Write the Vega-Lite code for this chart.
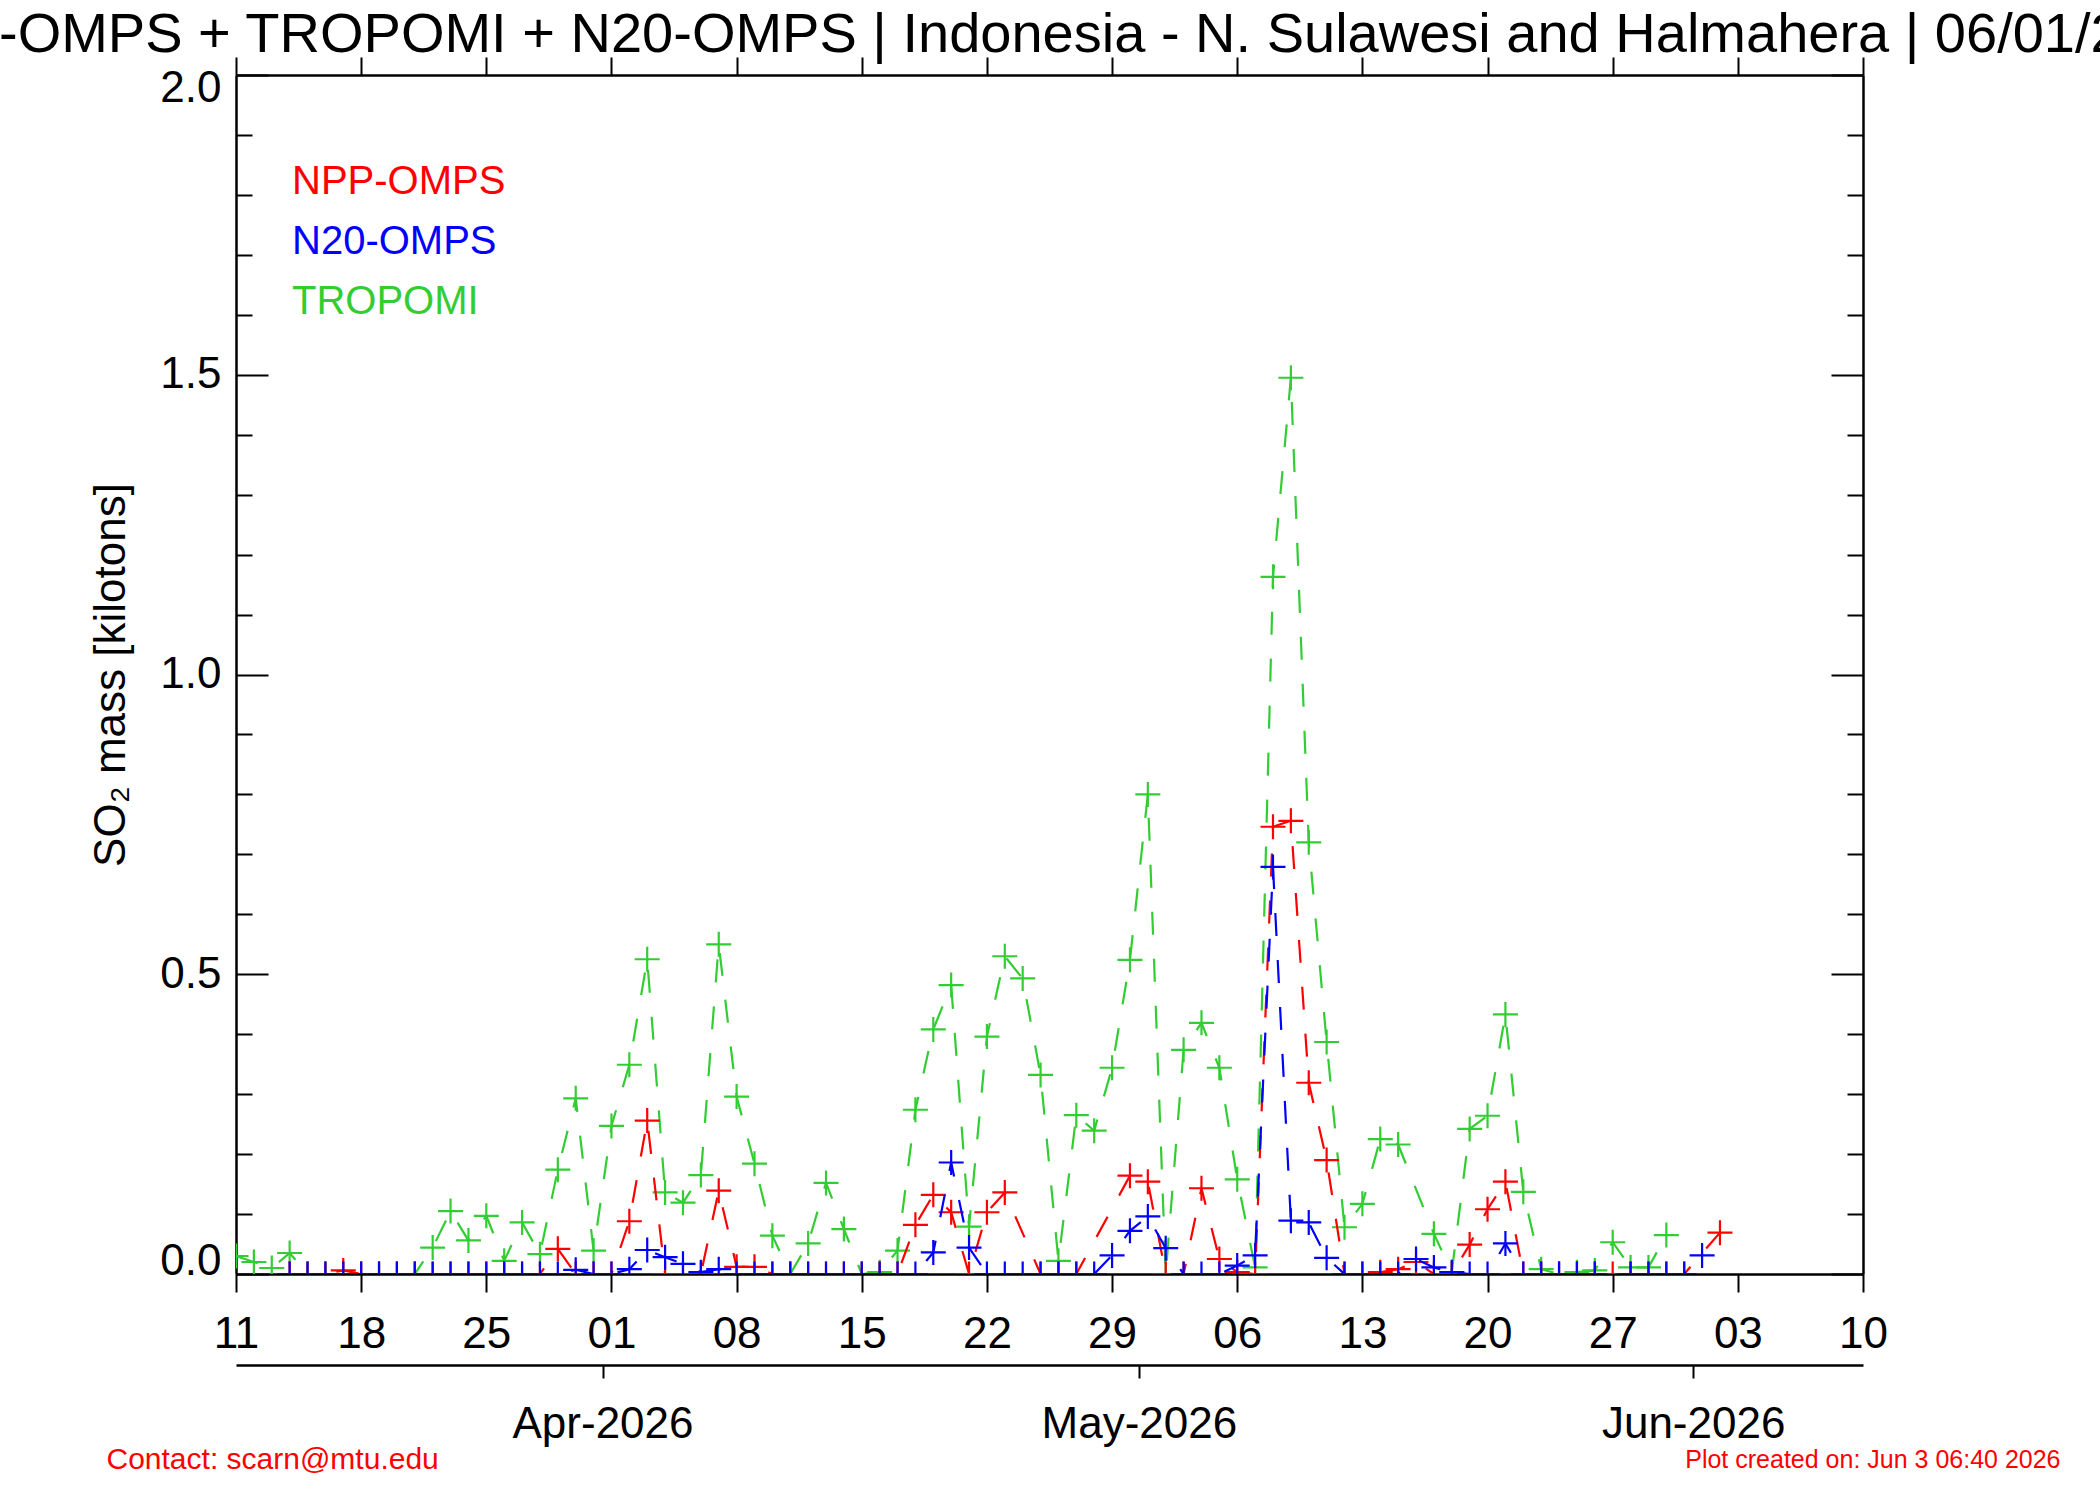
{
  "$schema": "https://vega.github.io/schema/vega-lite/v6.json",
  "width": 1627,
  "height": 1199,
  "autosize": "none",
  "padding": {"left": 236, "top": 75, "right": 237, "bottom": 226},
  "background": "white",
  "title": {
    "text": "NPP-OMPS + TROPOMI + N20-OMPS | Indonesia - N. Sulawesi and Halmahera | 06/01/2026",
    "font": "Liberation Sans",
    "fontSize": 56,
    "fontWeight": "normal",
    "color": "black",
    "anchor": "middle",
    "offset": -8
  },
  "config": {
    "view": {"stroke": null},
    "font": "Liberation Sans",
    "axis": {
      "grid": false,
      "domainColor": "black",
      "domainWidth": 2.5,
      "tickColor": "black",
      "tickWidth": 2,
      "labelColor": "black",
      "labelFont": "Liberation Sans",
      "labelFontSize": 44,
      "labelLimit": 0,
      "titleFont": "Liberation Sans",
      "titleFontSize": 44,
      "titleFontWeight": "normal",
      "titleColor": "black",
      "titleLimit": 0
    }
  },
  "datasets": {
    "so2": [
      {"s": "TROPOMI", "d": "2026-03-11T12:00Z", "v": 0.03},
      {"s": "TROPOMI", "d": "2026-03-12T12:00Z", "v": 0.02},
      {"s": "TROPOMI", "d": "2026-03-13T12:00Z", "v": 0.01},
      {"s": "TROPOMI", "d": "2026-03-14T12:00Z", "v": 0.035},
      {"s": "TROPOMI", "d": "2026-03-15T12:00Z", "v": 0},
      {"s": "TROPOMI", "d": "2026-03-16T12:00Z", "v": 0},
      {"s": "TROPOMI", "d": "2026-03-17T12:00Z", "v": 0},
      {"s": "TROPOMI", "d": "2026-03-18T12:00Z", "v": 0},
      {"s": "TROPOMI", "d": "2026-03-19T12:00Z", "v": 0},
      {"s": "TROPOMI", "d": "2026-03-20T12:00Z", "v": 0},
      {"s": "TROPOMI", "d": "2026-03-21T12:00Z", "v": 0},
      {"s": "TROPOMI", "d": "2026-03-22T12:00Z", "v": 0.044},
      {"s": "TROPOMI", "d": "2026-03-23T12:00Z", "v": 0.105},
      {"s": "TROPOMI", "d": "2026-03-24T12:00Z", "v": 0.056},
      {"s": "TROPOMI", "d": "2026-03-25T12:00Z", "v": 0.097},
      {"s": "TROPOMI", "d": "2026-03-26T12:00Z", "v": 0.022},
      {"s": "TROPOMI", "d": "2026-03-27T12:00Z", "v": 0.086},
      {"s": "TROPOMI", "d": "2026-03-28T12:00Z", "v": 0.033},
      {"s": "TROPOMI", "d": "2026-03-29T12:00Z", "v": 0.174},
      {"s": "TROPOMI", "d": "2026-03-30T12:00Z", "v": 0.293},
      {"s": "TROPOMI", "d": "2026-03-31T12:00Z", "v": 0.039},
      {"s": "TROPOMI", "d": "2026-04-01T12:00Z", "v": 0.247},
      {"s": "TROPOMI", "d": "2026-04-02T12:00Z", "v": 0.349},
      {"s": "TROPOMI", "d": "2026-04-03T12:00Z", "v": 0.525},
      {"s": "TROPOMI", "d": "2026-04-04T12:00Z", "v": 0.136},
      {"s": "TROPOMI", "d": "2026-04-05T12:00Z", "v": 0.119},
      {"s": "TROPOMI", "d": "2026-04-06T12:00Z", "v": 0.165},
      {"s": "TROPOMI", "d": "2026-04-07T12:00Z", "v": 0.55},
      {"s": "TROPOMI", "d": "2026-04-08T12:00Z", "v": 0.296},
      {"s": "TROPOMI", "d": "2026-04-09T12:00Z", "v": 0.184},
      {"s": "TROPOMI", "d": "2026-04-10T12:00Z", "v": 0.064},
      {"s": "TROPOMI", "d": "2026-04-11T12:00Z", "v": 0},
      {"s": "TROPOMI", "d": "2026-04-12T12:00Z", "v": 0.051},
      {"s": "TROPOMI", "d": "2026-04-13T12:00Z", "v": 0.152},
      {"s": "TROPOMI", "d": "2026-04-14T12:00Z", "v": 0.075},
      {"s": "TROPOMI", "d": "2026-04-15T12:00Z", "v": 0},
      {"s": "TROPOMI", "d": "2026-04-16T12:00Z", "v": 0.003},
      {"s": "TROPOMI", "d": "2026-04-17T12:00Z", "v": 0.039},
      {"s": "TROPOMI", "d": "2026-04-18T12:00Z", "v": 0.274},
      {"s": "TROPOMI", "d": "2026-04-19T12:00Z", "v": 0.408},
      {"s": "TROPOMI", "d": "2026-04-20T12:00Z", "v": 0.482},
      {"s": "TROPOMI", "d": "2026-04-21T12:00Z", "v": 0.079},
      {"s": "TROPOMI", "d": "2026-04-22T12:00Z", "v": 0.396},
      {"s": "TROPOMI", "d": "2026-04-23T12:00Z", "v": 0.53},
      {"s": "TROPOMI", "d": "2026-04-24T12:00Z", "v": 0.493},
      {"s": "TROPOMI", "d": "2026-04-25T12:00Z", "v": 0.332},
      {"s": "TROPOMI", "d": "2026-04-26T12:00Z", "v": 0.022},
      {"s": "TROPOMI", "d": "2026-04-27T12:00Z", "v": 0.265},
      {"s": "TROPOMI", "d": "2026-04-28T12:00Z", "v": 0.239},
      {"s": "TROPOMI", "d": "2026-04-29T12:00Z", "v": 0.344},
      {"s": "TROPOMI", "d": "2026-04-30T12:00Z", "v": 0.524},
      {"s": "TROPOMI", "d": "2026-05-01T12:00Z", "v": 0.8},
      {"s": "TROPOMI", "d": "2026-05-02T12:00Z", "v": 0},
      {"s": "TROPOMI", "d": "2026-05-03T12:00Z", "v": 0.374},
      {"s": "TROPOMI", "d": "2026-05-04T12:00Z", "v": 0.419},
      {"s": "TROPOMI", "d": "2026-05-05T12:00Z", "v": 0.344},
      {"s": "TROPOMI", "d": "2026-05-06T12:00Z", "v": 0.158},
      {"s": "TROPOMI", "d": "2026-05-07T12:00Z", "v": 0.011},
      {"s": "TROPOMI", "d": "2026-05-08T12:00Z", "v": 1.163},
      {"s": "TROPOMI", "d": "2026-05-09T12:00Z", "v": 1.495},
      {"s": "TROPOMI", "d": "2026-05-10T12:00Z", "v": 0.72},
      {"s": "TROPOMI", "d": "2026-05-11T12:00Z", "v": 0.387},
      {"s": "TROPOMI", "d": "2026-05-12T12:00Z", "v": 0.078},
      {"s": "TROPOMI", "d": "2026-05-13T12:00Z", "v": 0.117},
      {"s": "TROPOMI", "d": "2026-05-14T12:00Z", "v": 0.225},
      {"s": "TROPOMI", "d": "2026-05-15T12:00Z", "v": 0.216},
      {"s": "TROPOMI", "d": "2026-05-17T12:00Z", "v": 0.067},
      {"s": "TROPOMI", "d": "2026-05-18T12:00Z", "v": 0.003},
      {"s": "TROPOMI", "d": "2026-05-19T12:00Z", "v": 0.242},
      {"s": "TROPOMI", "d": "2026-05-20T12:00Z", "v": 0.264},
      {"s": "TROPOMI", "d": "2026-05-21T12:00Z", "v": 0.433},
      {"s": "TROPOMI", "d": "2026-05-22T12:00Z", "v": 0.137},
      {"s": "TROPOMI", "d": "2026-05-23T12:00Z", "v": 0.008},
      {"s": "TROPOMI", "d": "2026-05-24T12:00Z", "v": 0},
      {"s": "TROPOMI", "d": "2026-05-25T12:00Z", "v": 0.003},
      {"s": "TROPOMI", "d": "2026-05-26T12:00Z", "v": 0.006},
      {"s": "TROPOMI", "d": "2026-05-27T12:00Z", "v": 0.053},
      {"s": "TROPOMI", "d": "2026-05-28T12:00Z", "v": 0.011},
      {"s": "TROPOMI", "d": "2026-05-29T12:00Z", "v": 0.011},
      {"s": "TROPOMI", "d": "2026-05-30T12:00Z", "v": 0.065},

      {"s": "NPP-OMPS", "d": "2026-03-14T12:00Z", "v": 0},
      {"s": "NPP-OMPS", "d": "2026-03-15T12:00Z", "v": 0},
      {"s": "NPP-OMPS", "d": "2026-03-16T12:00Z", "v": 0},
      {"s": "NPP-OMPS", "d": "2026-03-17T12:00Z", "v": 0.006},
      {"s": "NPP-OMPS", "d": "2026-03-18T12:00Z", "v": 0},
      {"s": "NPP-OMPS", "d": "2026-03-19T12:00Z", "v": 0},
      {"s": "NPP-OMPS", "d": "2026-03-20T12:00Z", "v": 0},
      {"s": "NPP-OMPS", "d": "2026-03-21T12:00Z", "v": 0},
      {"s": "NPP-OMPS", "d": "2026-03-22T12:00Z", "v": 0},
      {"s": "NPP-OMPS", "d": "2026-03-23T12:00Z", "v": 0},
      {"s": "NPP-OMPS", "d": "2026-03-24T12:00Z", "v": 0},
      {"s": "NPP-OMPS", "d": "2026-03-25T12:00Z", "v": 0},
      {"s": "NPP-OMPS", "d": "2026-03-26T12:00Z", "v": 0},
      {"s": "NPP-OMPS", "d": "2026-03-27T12:00Z", "v": 0},
      {"s": "NPP-OMPS", "d": "2026-03-28T12:00Z", "v": 0},
      {"s": "NPP-OMPS", "d": "2026-03-29T12:00Z", "v": 0.042},
      {"s": "NPP-OMPS", "d": "2026-03-30T12:00Z", "v": 0},
      {"s": "NPP-OMPS", "d": "2026-03-31T12:00Z", "v": 0},
      {"s": "NPP-OMPS", "d": "2026-04-01T12:00Z", "v": 0},
      {"s": "NPP-OMPS", "d": "2026-04-02T12:00Z", "v": 0.088},
      {"s": "NPP-OMPS", "d": "2026-04-03T12:00Z", "v": 0.256},
      {"s": "NPP-OMPS", "d": "2026-04-04T12:00Z", "v": 0},
      {"s": "NPP-OMPS", "d": "2026-04-05T12:00Z", "v": 0},
      {"s": "NPP-OMPS", "d": "2026-04-06T12:00Z", "v": 0},
      {"s": "NPP-OMPS", "d": "2026-04-07T12:00Z", "v": 0.139},
      {"s": "NPP-OMPS", "d": "2026-04-08T12:00Z", "v": 0.012},
      {"s": "NPP-OMPS", "d": "2026-04-09T12:00Z", "v": 0.012},
      {"s": "NPP-OMPS", "d": "2026-04-10T12:00Z", "v": 0},
      {"s": "NPP-OMPS", "d": "2026-04-11T12:00Z", "v": 0},
      {"s": "NPP-OMPS", "d": "2026-04-12T12:00Z", "v": 0},
      {"s": "NPP-OMPS", "d": "2026-04-13T12:00Z", "v": 0},
      {"s": "NPP-OMPS", "d": "2026-04-14T12:00Z", "v": 0},
      {"s": "NPP-OMPS", "d": "2026-04-15T12:00Z", "v": 0},
      {"s": "NPP-OMPS", "d": "2026-04-16T12:00Z", "v": 0},
      {"s": "NPP-OMPS", "d": "2026-04-17T12:00Z", "v": 0},
      {"s": "NPP-OMPS", "d": "2026-04-18T12:00Z", "v": 0.082},
      {"s": "NPP-OMPS", "d": "2026-04-19T12:00Z", "v": 0.132},
      {"s": "NPP-OMPS", "d": "2026-04-20T12:00Z", "v": 0.103},
      {"s": "NPP-OMPS", "d": "2026-04-21T12:00Z", "v": 0},
      {"s": "NPP-OMPS", "d": "2026-04-22T12:00Z", "v": 0.103},
      {"s": "NPP-OMPS", "d": "2026-04-23T12:00Z", "v": 0.136},
      {"s": "NPP-OMPS", "d": "2026-04-25T12:00Z", "v": 0},
      {"s": "NPP-OMPS", "d": "2026-04-26T12:00Z", "v": 0},
      {"s": "NPP-OMPS", "d": "2026-04-27T12:00Z", "v": 0},
      {"s": "NPP-OMPS", "d": "2026-04-30T12:00Z", "v": 0.164},
      {"s": "NPP-OMPS", "d": "2026-05-01T12:00Z", "v": 0.154},
      {"s": "NPP-OMPS", "d": "2026-05-02T12:00Z", "v": 0},
      {"s": "NPP-OMPS", "d": "2026-05-03T12:00Z", "v": 0},
      {"s": "NPP-OMPS", "d": "2026-05-04T12:00Z", "v": 0.143},
      {"s": "NPP-OMPS", "d": "2026-05-05T12:00Z", "v": 0.025},
      {"s": "NPP-OMPS", "d": "2026-05-06T12:00Z", "v": 0.003},
      {"s": "NPP-OMPS", "d": "2026-05-07T12:00Z", "v": 0},
      {"s": "NPP-OMPS", "d": "2026-05-08T12:00Z", "v": 0.746},
      {"s": "NPP-OMPS", "d": "2026-05-09T12:00Z", "v": 0.756},
      {"s": "NPP-OMPS", "d": "2026-05-10T12:00Z", "v": 0.319},
      {"s": "NPP-OMPS", "d": "2026-05-11T12:00Z", "v": 0.19},
      {"s": "NPP-OMPS", "d": "2026-05-12T12:00Z", "v": 0},
      {"s": "NPP-OMPS", "d": "2026-05-13T12:00Z", "v": 0},
      {"s": "NPP-OMPS", "d": "2026-05-14T12:00Z", "v": 0.003},
      {"s": "NPP-OMPS", "d": "2026-05-15T12:00Z", "v": 0.008},
      {"s": "NPP-OMPS", "d": "2026-05-16T12:00Z", "v": 0.02},
      {"s": "NPP-OMPS", "d": "2026-05-17T12:00Z", "v": 0},
      {"s": "NPP-OMPS", "d": "2026-05-18T12:00Z", "v": 0},
      {"s": "NPP-OMPS", "d": "2026-05-19T12:00Z", "v": 0.049},
      {"s": "NPP-OMPS", "d": "2026-05-20T12:00Z", "v": 0.108},
      {"s": "NPP-OMPS", "d": "2026-05-21T12:00Z", "v": 0.154},
      {"s": "NPP-OMPS", "d": "2026-05-22T12:00Z", "v": 0},
      {"s": "NPP-OMPS", "d": "2026-05-23T12:00Z", "v": 0},
      {"s": "NPP-OMPS", "d": "2026-05-24T12:00Z", "v": 0},
      {"s": "NPP-OMPS", "d": "2026-05-25T12:00Z", "v": 0},
      {"s": "NPP-OMPS", "d": "2026-05-26T12:00Z", "v": 0},
      {"s": "NPP-OMPS", "d": "2026-05-27T12:00Z", "v": 0},
      {"s": "NPP-OMPS", "d": "2026-05-28T12:00Z", "v": 0},
      {"s": "NPP-OMPS", "d": "2026-05-29T12:00Z", "v": 0},
      {"s": "NPP-OMPS", "d": "2026-05-30T12:00Z", "v": 0},
      {"s": "NPP-OMPS", "d": "2026-05-31T12:00Z", "v": 0},
      {"s": "NPP-OMPS", "d": "2026-06-02T12:00Z", "v": 0.069},

      {"s": "N20-OMPS", "d": "2026-03-14T12:00Z", "v": 0},
      {"s": "N20-OMPS", "d": "2026-03-15T12:00Z", "v": 0},
      {"s": "N20-OMPS", "d": "2026-03-16T12:00Z", "v": 0},
      {"s": "N20-OMPS", "d": "2026-03-17T12:00Z", "v": 0},
      {"s": "N20-OMPS", "d": "2026-03-18T12:00Z", "v": 0},
      {"s": "N20-OMPS", "d": "2026-03-19T12:00Z", "v": 0},
      {"s": "N20-OMPS", "d": "2026-03-20T12:00Z", "v": 0},
      {"s": "N20-OMPS", "d": "2026-03-21T12:00Z", "v": 0},
      {"s": "N20-OMPS", "d": "2026-03-22T12:00Z", "v": 0},
      {"s": "N20-OMPS", "d": "2026-03-23T12:00Z", "v": 0},
      {"s": "N20-OMPS", "d": "2026-03-24T12:00Z", "v": 0},
      {"s": "N20-OMPS", "d": "2026-03-25T12:00Z", "v": 0},
      {"s": "N20-OMPS", "d": "2026-03-26T12:00Z", "v": 0},
      {"s": "N20-OMPS", "d": "2026-03-27T12:00Z", "v": 0},
      {"s": "N20-OMPS", "d": "2026-03-28T12:00Z", "v": 0},
      {"s": "N20-OMPS", "d": "2026-03-29T12:00Z", "v": 0},
      {"s": "N20-OMPS", "d": "2026-03-30T12:00Z", "v": 0.007},
      {"s": "N20-OMPS", "d": "2026-03-31T12:00Z", "v": 0},
      {"s": "N20-OMPS", "d": "2026-04-01T12:00Z", "v": 0},
      {"s": "N20-OMPS", "d": "2026-04-02T12:00Z", "v": 0.008},
      {"s": "N20-OMPS", "d": "2026-04-03T12:00Z", "v": 0.04},
      {"s": "N20-OMPS", "d": "2026-04-04T12:00Z", "v": 0.028},
      {"s": "N20-OMPS", "d": "2026-04-05T12:00Z", "v": 0.017},
      {"s": "N20-OMPS", "d": "2026-04-06T12:00Z", "v": 0.003},
      {"s": "N20-OMPS", "d": "2026-04-07T12:00Z", "v": 0.008},
      {"s": "N20-OMPS", "d": "2026-04-08T12:00Z", "v": 0},
      {"s": "N20-OMPS", "d": "2026-04-09T12:00Z", "v": 0},
      {"s": "N20-OMPS", "d": "2026-04-10T12:00Z", "v": 0},
      {"s": "N20-OMPS", "d": "2026-04-11T12:00Z", "v": 0},
      {"s": "N20-OMPS", "d": "2026-04-12T12:00Z", "v": 0},
      {"s": "N20-OMPS", "d": "2026-04-13T12:00Z", "v": 0},
      {"s": "N20-OMPS", "d": "2026-04-14T12:00Z", "v": 0},
      {"s": "N20-OMPS", "d": "2026-04-15T12:00Z", "v": 0},
      {"s": "N20-OMPS", "d": "2026-04-16T12:00Z", "v": 0},
      {"s": "N20-OMPS", "d": "2026-04-17T12:00Z", "v": 0},
      {"s": "N20-OMPS", "d": "2026-04-18T12:00Z", "v": 0},
      {"s": "N20-OMPS", "d": "2026-04-19T12:00Z", "v": 0.036},
      {"s": "N20-OMPS", "d": "2026-04-20T12:00Z", "v": 0.186},
      {"s": "N20-OMPS", "d": "2026-04-21T12:00Z", "v": 0.044},
      {"s": "N20-OMPS", "d": "2026-04-22T12:00Z", "v": 0},
      {"s": "N20-OMPS", "d": "2026-04-23T12:00Z", "v": 0},
      {"s": "N20-OMPS", "d": "2026-04-24T12:00Z", "v": 0},
      {"s": "N20-OMPS", "d": "2026-04-25T12:00Z", "v": 0},
      {"s": "N20-OMPS", "d": "2026-04-26T12:00Z", "v": 0},
      {"s": "N20-OMPS", "d": "2026-04-27T12:00Z", "v": 0},
      {"s": "N20-OMPS", "d": "2026-04-28T12:00Z", "v": 0},
      {"s": "N20-OMPS", "d": "2026-04-29T12:00Z", "v": 0.031},
      {"s": "N20-OMPS", "d": "2026-04-30T12:00Z", "v": 0.072},
      {"s": "N20-OMPS", "d": "2026-05-01T12:00Z", "v": 0.096},
      {"s": "N20-OMPS", "d": "2026-05-02T12:00Z", "v": 0.043},
      {"s": "N20-OMPS", "d": "2026-05-03T12:00Z", "v": 0},
      {"s": "N20-OMPS", "d": "2026-05-04T12:00Z", "v": 0},
      {"s": "N20-OMPS", "d": "2026-05-05T12:00Z", "v": 0},
      {"s": "N20-OMPS", "d": "2026-05-06T12:00Z", "v": 0.014},
      {"s": "N20-OMPS", "d": "2026-05-07T12:00Z", "v": 0.031},
      {"s": "N20-OMPS", "d": "2026-05-08T12:00Z", "v": 0.679},
      {"s": "N20-OMPS", "d": "2026-05-09T12:00Z", "v": 0.089},
      {"s": "N20-OMPS", "d": "2026-05-10T12:00Z", "v": 0.086},
      {"s": "N20-OMPS", "d": "2026-05-11T12:00Z", "v": 0.027},
      {"s": "N20-OMPS", "d": "2026-05-12T12:00Z", "v": 0},
      {"s": "N20-OMPS", "d": "2026-05-13T12:00Z", "v": 0},
      {"s": "N20-OMPS", "d": "2026-05-14T12:00Z", "v": 0},
      {"s": "N20-OMPS", "d": "2026-05-15T12:00Z", "v": 0},
      {"s": "N20-OMPS", "d": "2026-05-16T12:00Z", "v": 0.025},
      {"s": "N20-OMPS", "d": "2026-05-17T12:00Z", "v": 0.011},
      {"s": "N20-OMPS", "d": "2026-05-18T12:00Z", "v": 0.003},
      {"s": "N20-OMPS", "d": "2026-05-19T12:00Z", "v": 0},
      {"s": "N20-OMPS", "d": "2026-05-20T12:00Z", "v": 0},
      {"s": "N20-OMPS", "d": "2026-05-21T12:00Z", "v": 0.051},
      {"s": "N20-OMPS", "d": "2026-05-22T12:00Z", "v": 0},
      {"s": "N20-OMPS", "d": "2026-05-23T12:00Z", "v": 0},
      {"s": "N20-OMPS", "d": "2026-05-24T12:00Z", "v": 0},
      {"s": "N20-OMPS", "d": "2026-05-25T12:00Z", "v": 0},
      {"s": "N20-OMPS", "d": "2026-05-26T12:00Z", "v": 0},
      {"s": "N20-OMPS", "d": "2026-05-28T12:00Z", "v": 0},
      {"s": "N20-OMPS", "d": "2026-05-29T12:00Z", "v": 0},
      {"s": "N20-OMPS", "d": "2026-05-30T12:00Z", "v": 0},
      {"s": "N20-OMPS", "d": "2026-05-31T12:00Z", "v": 0},
      {"s": "N20-OMPS", "d": "2026-06-01T12:00Z", "v": 0.031}
    ]
  },
  "data": {"name": "so2"},
  "layer": [
    {
      "transform": [{"filter": "datum.s === 'TROPOMI'"}],
      "mark": {"type": "line", "strokeWidth": 2.2, "strokeDash": [23, 24], "clip": true},
      "encoding": {
        "x": {
          "field": "d", "type": "temporal",
          "scale": {"type": "utc", "domain": [{"year": 2026, "month": 3, "date": 11, "hours": 12, "utc": true}, {"year": 2026, "month": 6, "date": 10, "hours": 12, "utc": true}]},
          "axis": {
            "orient": "bottom",
            "values": [
              {"year": 2026, "month": 3, "date": 11, "hours": 12, "utc": true},
              {"year": 2026, "month": 3, "date": 18, "hours": 12, "utc": true},
              {"year": 2026, "month": 3, "date": 25, "hours": 12, "utc": true},
              {"year": 2026, "month": 4, "date": 1, "hours": 12, "utc": true},
              {"year": 2026, "month": 4, "date": 8, "hours": 12, "utc": true},
              {"year": 2026, "month": 4, "date": 15, "hours": 12, "utc": true},
              {"year": 2026, "month": 4, "date": 22, "hours": 12, "utc": true},
              {"year": 2026, "month": 4, "date": 29, "hours": 12, "utc": true},
              {"year": 2026, "month": 5, "date": 6, "hours": 12, "utc": true},
              {"year": 2026, "month": 5, "date": 13, "hours": 12, "utc": true},
              {"year": 2026, "month": 5, "date": 20, "hours": 12, "utc": true},
              {"year": 2026, "month": 5, "date": 27, "hours": 12, "utc": true},
              {"year": 2026, "month": 6, "date": 3, "hours": 12, "utc": true},
              {"year": 2026, "month": 6, "date": 10, "hours": 12, "utc": true}
            ],
            "format": "%d",
            "tickSize": 18,
            "labelPadding": 20,
            "labelFlush": false,
            "labelOverlap": false,
            "title": "Plot created on: Jun  3 06:40 2026",
            "titleColor": "#ff0000",
            "titleFontSize": 25,
            "titleX": 1824,
            "titleY": 185,
            "titleAlign": "right",
            "titleBaseline": "middle"
          }
        },
        "y": {
          "field": "v", "type": "quantitative",
          "scale": {"domain": [0, 2], "nice": false},
          "axis": {
            "orient": "left",
            "values": [0, 0.5, 1, 1.5, 2],
            "format": ".1f",
            "ticks": false,
            "labelPadding": 15,
            "labelFlush": true,
            "labelFlushOffset": 9,
            "title": "SO₂ mass [kilotons]",
            "titleX": -125,
            "titleBaseline": "middle"
          }
        },
        "color": {
          "field": "s", "type": "nominal",
          "scale": {"domain": ["NPP-OMPS", "N20-OMPS", "TROPOMI"], "range": ["#ff0000", "#0000ff", "#32cd32"]},
          "legend": {
            "orient": "none",
            "legendX": 16,
            "legendY": 87,
            "title": null,
            "padding": 0,
            "symbolSize": 0,
            "symbolStrokeWidth": 0,
            "symbolOpacity": 0,
            "labelOffset": 0,
            "labelFont": "Liberation Sans",
            "labelFontSize": 40,
            "labelLimit": 0,
            "rowPadding": 20,
            "encode": {"labels": {"update": {"fill": {"scale": "color", "field": "value"}}}}
          }
        }
      }
    },
    {
      "transform": [{"filter": "datum.s === 'TROPOMI'"}],
      "mark": {"type": "point", "shape": "M-1,0L1,0M0,-1L0,1", "size": 625, "filled": false, "strokeWidth": 2.2, "opacity": 1, "clip": true},
      "encoding": {
        "x": {
          "field": "d", "type": "temporal",
          "scale": {"type": "utc", "domain": [{"year": 2026, "month": 3, "date": 11, "hours": 12, "utc": true}, {"year": 2026, "month": 6, "date": 10, "hours": 12, "utc": true}]},
          "axis": {
            "orient": "top",
            "values": [
              {"year": 2026, "month": 3, "date": 11, "hours": 12, "utc": true},
              {"year": 2026, "month": 3, "date": 18, "hours": 12, "utc": true},
              {"year": 2026, "month": 3, "date": 25, "hours": 12, "utc": true},
              {"year": 2026, "month": 4, "date": 1, "hours": 12, "utc": true},
              {"year": 2026, "month": 4, "date": 8, "hours": 12, "utc": true},
              {"year": 2026, "month": 4, "date": 15, "hours": 12, "utc": true},
              {"year": 2026, "month": 4, "date": 22, "hours": 12, "utc": true},
              {"year": 2026, "month": 4, "date": 29, "hours": 12, "utc": true},
              {"year": 2026, "month": 5, "date": 6, "hours": 12, "utc": true},
              {"year": 2026, "month": 5, "date": 13, "hours": 12, "utc": true},
              {"year": 2026, "month": 5, "date": 20, "hours": 12, "utc": true},
              {"year": 2026, "month": 5, "date": 27, "hours": 12, "utc": true},
              {"year": 2026, "month": 6, "date": 3, "hours": 12, "utc": true},
              {"year": 2026, "month": 6, "date": 10, "hours": 12, "utc": true}
            ],
            "labels": false,
            "tickSize": 18,
            "title": null
          }
        },
        "y": {
          "field": "v", "type": "quantitative",
          "scale": {"domain": [0, 2], "nice": false},
          "axis": {"orient": "left", "values": [0, 0.5, 1, 1.5, 2], "offset": -32, "tickSize": 32, "domain": false, "labels": false, "title": null}
        },
        "color": {"field": "s", "type": "nominal", "legend": null}
      }
    },
    {
      "transform": [{"filter": "datum.s === 'NPP-OMPS'"}],
      "mark": {"type": "line", "strokeWidth": 2.2, "strokeDash": [23, 24], "clip": true},
      "encoding": {
        "x": {
          "field": "d", "type": "temporal",
          "scale": {"type": "utc", "domain": [{"year": 2026, "month": 3, "date": 11, "hours": 12, "utc": true}, {"year": 2026, "month": 6, "date": 10, "hours": 12, "utc": true}]},
          "axis": {
            "orient": "bottom",
            "offset": 91,
            "values": [
              {"year": 2026, "month": 4, "date": 1, "utc": true},
              {"year": 2026, "month": 5, "date": 1, "utc": true},
              {"year": 2026, "month": 6, "date": 1, "utc": true}
            ],
            "format": "%b-%Y",
            "tickSize": 13,
            "labelPadding": 24,
            "labelFlush": false,
            "labelOverlap": false,
            "labelLimit": 0,
            "title": "Contact: scarn@mtu.edu",
            "titleColor": "#ff0000",
            "titleFontSize": 30,
            "titleX": -130,
            "titleY": 94,
            "titleAlign": "left",
            "titleBaseline": "middle"
          }
        },
        "y": {
          "field": "v", "type": "quantitative",
          "scale": {"domain": [0, 2], "nice": false},
          "axis": {"orient": "left", "values": [0.1, 0.2, 0.3, 0.4, 0.6, 0.7, 0.8, 0.9, 1.1, 1.2, 1.3, 1.4, 1.6, 1.7, 1.8, 1.9], "offset": -16, "tickSize": 16, "domain": false, "labels": false, "title": null}
        },
        "color": {"field": "s", "type": "nominal", "legend": null}
      }
    },
    {
      "transform": [{"filter": "datum.s === 'NPP-OMPS'"}],
      "mark": {"type": "point", "shape": "M-1,0L1,0M0,-1L0,1", "size": 625, "filled": false, "strokeWidth": 2.2, "opacity": 1, "clip": true},
      "encoding": {
        "x": {"field": "d", "type": "temporal", "scale": {"type": "utc"}, "axis": null},
        "y": {
          "field": "v", "type": "quantitative",
          "scale": {"domain": [0, 2], "nice": false},
          "axis": {"orient": "right", "values": [0, 0.5, 1, 1.5, 2], "offset": -32, "tickSize": 32, "domain": false, "labels": false, "title": null}
        },
        "color": {"field": "s", "type": "nominal", "legend": null}
      }
    },
    {
      "transform": [{"filter": "datum.s === 'N20-OMPS'"}],
      "mark": {"type": "line", "strokeWidth": 2.2, "strokeDash": [23, 24], "clip": true},
      "encoding": {
        "x": {"field": "d", "type": "temporal", "scale": {"type": "utc"}, "axis": null},
        "y": {
          "field": "v", "type": "quantitative",
          "scale": {"domain": [0, 2], "nice": false},
          "axis": {"orient": "right", "values": [0.1, 0.2, 0.3, 0.4, 0.6, 0.7, 0.8, 0.9, 1.1, 1.2, 1.3, 1.4, 1.6, 1.7, 1.8, 1.9], "offset": -16, "tickSize": 16, "domain": false, "labels": false, "title": null}
        },
        "color": {"field": "s", "type": "nominal", "legend": null}
      }
    },
    {
      "transform": [{"filter": "datum.s === 'N20-OMPS'"}],
      "mark": {"type": "point", "shape": "M-1,0L1,0M0,-1L0,1", "size": 625, "filled": false, "strokeWidth": 2.2, "opacity": 1, "clip": true},
      "encoding": {
        "x": {"field": "d", "type": "temporal", "scale": {"type": "utc"}, "axis": null},
        "y": {
          "field": "v", "type": "quantitative",
          "scale": {"domain": [0, 2], "nice": false},
          "axis": {"orient": "right", "ticks": false, "labels": false, "domain": true, "title": null}
        },
        "color": {"field": "s", "type": "nominal", "legend": null}
      }
    }
  ],
  "resolve": {"axis": {"x": "independent", "y": "independent"}}
}
